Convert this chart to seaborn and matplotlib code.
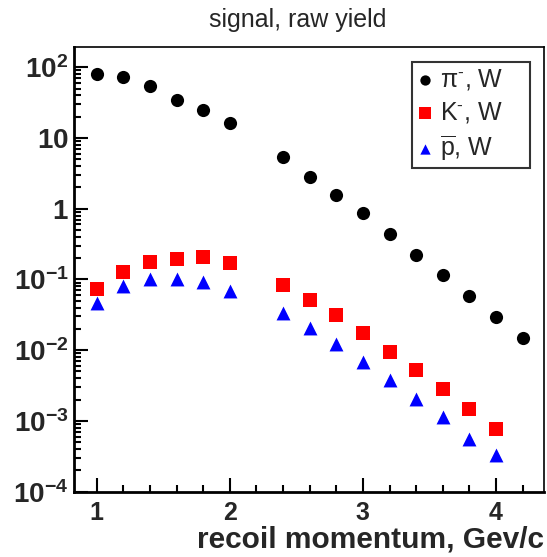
import matplotlib
matplotlib.use("Agg")
import matplotlib.pyplot as plt
import matplotlib.ticker as mticker
import numpy as np
import pandas as pd
import seaborn as sns

# Recoil momentum bins (GeV/c)
p_pion = [1.0, 1.2, 1.4, 1.6, 1.8, 2.0, 2.4, 2.6, 2.8, 3.0, 3.2, 3.4, 3.6, 3.8, 4.0, 4.2]
p_kaon = [1.0, 1.2, 1.4, 1.6, 1.8, 2.0, 2.4, 2.6, 2.8, 3.0, 3.2, 3.4, 3.6, 3.8, 4.0]
p_pbar = [1.0, 1.2, 1.4, 1.6, 1.8, 2.0, 2.4, 2.6, 2.8, 3.0, 3.2, 3.4, 3.6, 3.8, 4.0]

# Raw signal yields
yield_pion = [80, 72, 54, 34, 24.8, 16.1, 5.3, 2.83, 1.57, 0.857, 0.438, 0.221,
              0.114, 0.058, 0.0296, 0.0151]
yield_kaon = [0.0722, 0.127, 0.176, 0.196, 0.205, 0.172, 0.083, 0.0509, 0.0313,
              0.0176, 0.00946, 0.00533, 0.00284, 0.00148, 0.00078]
yield_pbar = [0.0458, 0.080, 0.100, 0.100, 0.0916, 0.069, 0.0337, 0.0209, 0.0122,
              0.0069, 0.00385, 0.00205, 0.00112, 0.000556, 0.00033]

labels = [r"$\mathrm{\pi^{\text{-}}}$, W", r"K$^{\text{-}}$, W", r"$\mathrm{\overline{p}}$, W"]

y_ticks = [1e-4, 1e-3, 1e-2, 1e-1, 1, 10, 100]
y_tick_labels = [r"$\mathbf{10^{-4}}$", r"$\mathbf{10^{-3}}$", r"$\mathbf{10^{-2}}$",
                 r"$\mathbf{10^{-1}}$", r"$\mathbf{1}$", r"$\mathbf{10}$",
                 r"$\mathbf{10^{2}}$"]
x_ticks = [1, 2, 3, 4]
x_tick_labels = ["1", "2", "3", "4"]

df = pd.concat([
    pd.DataFrame({"p": p_pion, "y": yield_pion, "species": labels[0]}),
    pd.DataFrame({"p": p_kaon, "y": yield_kaon, "species": labels[1]}),
    pd.DataFrame({"p": p_pbar, "y": yield_pbar, "species": labels[2]}),
], ignore_index=True)

sns.set_style("ticks")
plt.rcParams["font.family"] = ["Liberation Sans", "DejaVu Sans"]
plt.rcParams["mathtext.fontset"] = "custom"
plt.rcParams["mathtext.rm"] = "Liberation Sans"
plt.rcParams["mathtext.it"] = "Liberation Sans:italic"
plt.rcParams["mathtext.bf"] = "Liberation Sans:bold"

fig = plt.figure(figsize=(5.47, 5.57), dpi=100)
ax = fig.add_axes([74 / 547, 1 - 491.7 / 557, (543.7 - 74) / 547, (491.7 - 47) / 557])

palette = {labels[0]: "black", labels[1]: "#ff0000", labels[2]: "#0000ff"}
markers = {labels[0]: "o", labels[1]: "s", labels[2]: "^"}
sizes = {labels[0]: 90, labels[1]: 100, labels[2]: 100}
legend_sizes = [55, 75, 55]

for lab in labels:
    sub = df[df["species"] == lab]
    sns.scatterplot(data=sub, x="p", y="y", color=palette[lab], marker=markers[lab],
                    s=sizes[lab], linewidth=0, ax=ax, label=lab, zorder=3)

ax.set_yscale("log")
ax.set_xlim(0.83, 4.358)
ax.set_ylim(1e-4, 193)

ax.set_yticks(y_ticks)
ax.set_yticklabels(y_tick_labels)
ax.yaxis.set_minor_locator(mticker.LogLocator(base=10, subs=np.arange(2, 10), numticks=20))
ax.yaxis.set_minor_formatter(mticker.NullFormatter())
ax.set_xticks(x_ticks)
ax.set_xticklabels(x_tick_labels, fontweight="bold")
ax.xaxis.set_minor_locator(mticker.MultipleLocator(0.2))

ax.tick_params(axis="both", which="both", direction="in", top=False, right=False,
               width=1.5, color="black")
ax.tick_params(axis="both", which="major", length=10)
ax.tick_params(axis="both", which="minor", length=5)
ax.tick_params(axis="y", which="major", pad=4, labelsize=20)
ax.tick_params(axis="x", which="major", pad=7, labelsize=18)

for side in ["left", "bottom"]:
    ax.spines[side].set_linewidth(2)
for side in ["top", "right"]:
    ax.spines[side].set_linewidth(1.2)
for sp in ax.spines.values():
    sp.set_color("black")

ax.set_xlabel("recoil momentum, Gev/c", fontsize=21.5, fontweight="bold", ha="right")
ax.xaxis.set_label_coords(1.0, (491.7 - 526) / 444.7)
ax.set_ylabel("")
fig.text(298 / 547, 1 - 19.5 / 557, "signal, raw yield", ha="center", va="center",
         fontsize=18)

leg = ax.legend(loc="upper left", bbox_to_anchor=(0.7196, 0.728, 0.2512, 0.239),
                mode="expand", borderaxespad=0, frameon=True, fancybox=False,
                fontsize=18, handletextpad=0.28, handlelength=0.64,
                labelspacing=0.32, borderpad=0.2)
leg.get_frame().set_edgecolor("black")
leg.get_frame().set_linewidth(1.5)
for h, s in zip(leg.legend_handles, legend_sizes):
    h.set_sizes([s])

fig.savefig("out.png", dpi=100)
